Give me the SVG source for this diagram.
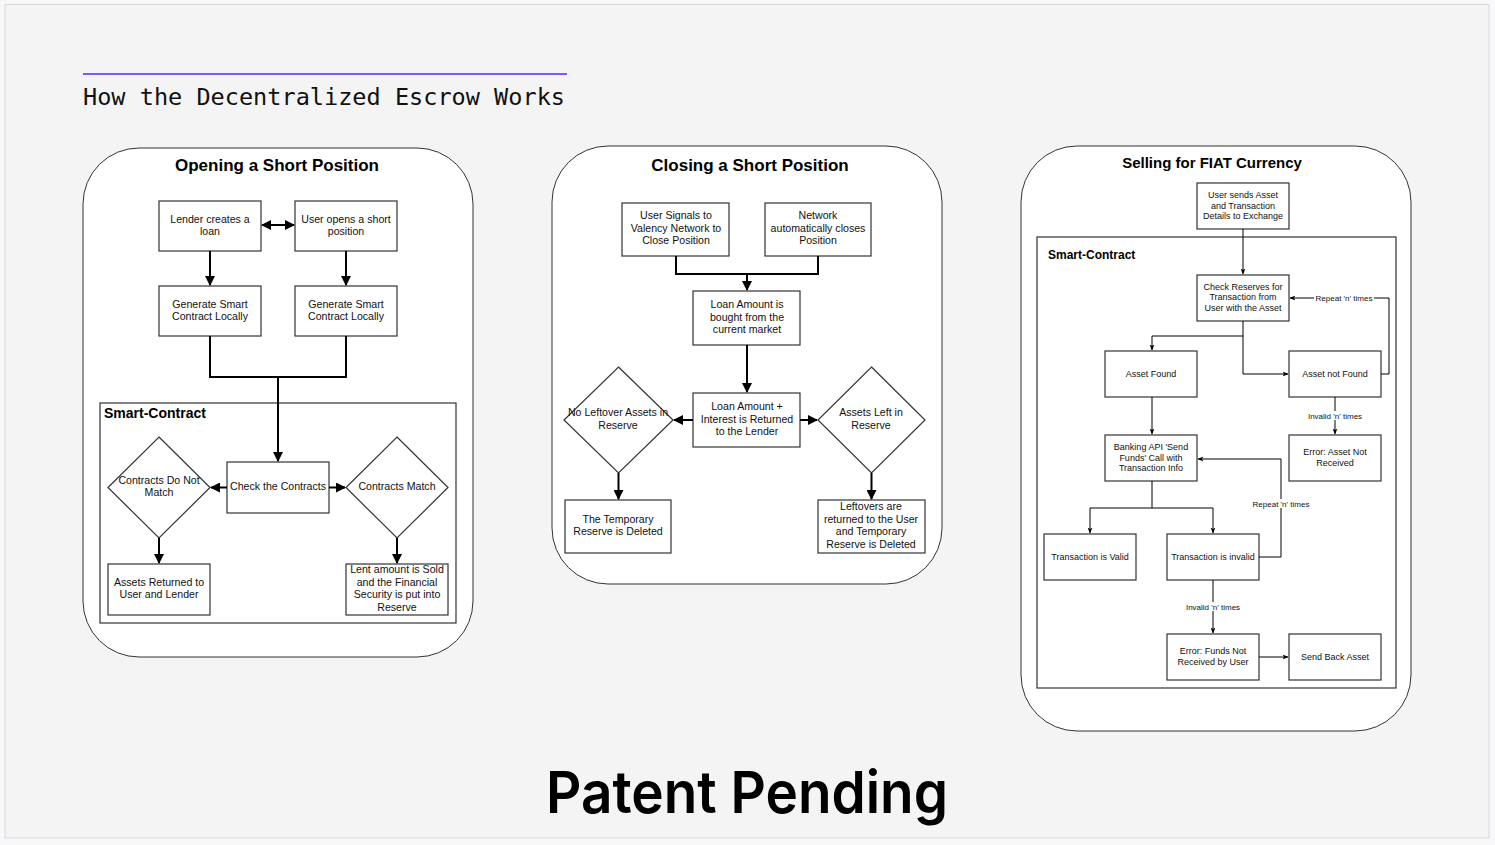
<svg xmlns="http://www.w3.org/2000/svg" width="1495" height="845" viewBox="0 0 1495 845">
<style>
.panel{fill:#ffffff;stroke:#333333;stroke-width:1}
.box{fill:#ffffff;stroke:#333333;stroke-width:1.2}
.sc{fill:none;stroke:#333333;stroke-width:1.2}
.t{font-family:"Liberation Sans",Arial,sans-serif;font-size:10.6px;fill:#111111;text-anchor:middle}
.s{font-family:"Liberation Sans",Arial,sans-serif;font-size:9px;fill:#111111;text-anchor:middle}
.lbl{font-family:"Liberation Sans",Arial,sans-serif;font-size:8px;fill:#111111;text-anchor:middle}
.h{font-family:"Liberation Sans",Arial,sans-serif;font-size:17px;font-weight:bold;fill:#000000;text-anchor:middle}
.h3{font-family:"Liberation Sans",Arial,sans-serif;font-size:15px;font-weight:bold;fill:#000000;text-anchor:middle}
.sct{font-family:"Liberation Sans",Arial,sans-serif;font-size:14px;font-weight:bold;fill:#000000}
.sct3{font-family:"Liberation Sans",Arial,sans-serif;font-size:12px;font-weight:bold;fill:#000000}
.c{fill:none;stroke:#000000;stroke-width:2}
.c3{fill:none;stroke:#000000;stroke-width:1}
</style>
<defs>
<marker id="ah" viewBox="0 0 10 10" refX="9" refY="5" markerWidth="5" markerHeight="5" orient="auto-start-reverse" markerUnits="strokeWidth"><path d="M0,0 L10,5 L0,10 z" fill="#000"/></marker>
<marker id="ah3" viewBox="0 0 10 10" refX="9" refY="5" markerWidth="6" markerHeight="6" orient="auto-start-reverse" markerUnits="strokeWidth"><path d="M0,1 L10,5 L0,9 L2.5,5 z" fill="#000"/></marker>
</defs>
<rect x="0" y="0" width="1495" height="845" fill="#f8f8fa"/>
<rect x="5" y="4.5" width="1484" height="833.5" fill="#f4f4f4" stroke="#d8d8d8" stroke-width="1"/>
<g id="header">
<line x1="83" y1="74" x2="567" y2="74" stroke="#7261f0" stroke-width="2"/>
<text x="83" y="105" font-family="'DejaVu Sans Mono','Liberation Mono',monospace" font-size="23.5" fill="#111111" textLength="482" lengthAdjust="spacingAndGlyphs">How the Decentralized Escrow Works</text>
</g>
<g id="footer">
<text x="546" y="813" font-family="Inter,'Noto Sans',sans-serif" font-size="58" font-weight="600" fill="#000000" textLength="402" lengthAdjust="spacingAndGlyphs">Patent Pending</text>
</g>

<!-- Panel 1 -->
<g id="panel1">
<rect class="panel" x="83" y="148" width="390" height="509" rx="56"/>
<text class="h" x="277" y="171">Opening a Short Position</text>
<rect class="sc" x="100" y="403" width="356" height="220"/>
<text class="sct" x="104" y="418">Smart-Contract</text>
</g>
<g id="p1-lender"><rect class="box" x="159" y="201" width="102" height="50"/><text class="t" x="210" y="223">Lender creates a</text><text class="t" x="210" y="235">loan</text></g>
<g id="p1-user"><rect class="box" x="295" y="201" width="102" height="50"/><text class="t" x="346" y="223">User opens a short</text><text class="t" x="346" y="235">position</text></g>
<g id="p1-gen1"><rect class="box" x="159" y="286" width="102" height="50"/><text class="t" x="210" y="308">Generate Smart</text><text class="t" x="210" y="320">Contract Locally</text></g>
<g id="p1-gen2"><rect class="box" x="295" y="286" width="102" height="50"/><text class="t" x="346" y="308">Generate Smart</text><text class="t" x="346" y="320">Contract Locally</text></g>
<g id="p1-check"><rect class="box" x="227" y="462" width="102" height="51"/><text class="t" x="278" y="490">Check the Contracts</text></g>
<g id="p1-nomatch"><path class="box" d="M159,437 L210,487.5 L159,538 L108,487.5 Z"/><text class="t" x="159" y="484">Contracts Do Not</text><text class="t" x="159" y="496">Match</text></g>
<g id="p1-match"><path class="box" d="M397,437 L448,487.5 L397,538 L346,487.5 Z"/><text class="t" x="397" y="490">Contracts Match</text></g>
<g id="p1-returned"><rect class="box" x="108" y="564" width="102" height="51"/><text class="t" x="159" y="586">Assets Returned to</text><text class="t" x="159" y="598">User and Lender</text></g>
<g id="p1-sold"><rect class="box" x="346" y="564" width="102" height="51"/><text class="t" x="397" y="573">Lent amount is Sold</text><text class="t" x="397" y="586">and the Financial</text><text class="t" x="397" y="598">Security is put into</text><text class="t" x="397" y="611">Reserve</text></g>

<!-- Panel 2 -->
<g id="panel2">
<rect class="panel" x="552" y="146" width="390" height="438" rx="56"/>
<text class="h" x="750" y="171">Closing a Short Position</text>
</g>
<g id="p2-signal"><rect class="box" x="622" y="203" width="107" height="53"/><text class="t" x="676" y="219">User Signals to</text><text class="t" x="676" y="232">Valency Network to</text><text class="t" x="676" y="244">Close Position</text></g>
<g id="p2-auto"><rect class="box" x="765" y="203" width="106" height="53"/><text class="t" x="818" y="219">Network</text><text class="t" x="818" y="232">automatically closes</text><text class="t" x="818" y="244">Position</text></g>
<g id="p2-bought"><rect class="box" x="693" y="291" width="107" height="54"/><text class="t" x="747" y="308">Loan Amount is</text><text class="t" x="747" y="321">bought from the</text><text class="t" x="747" y="333">current market</text></g>
<g id="p2-returned"><rect class="box" x="693" y="393" width="107" height="54"/><text class="t" x="747" y="410">Loan Amount +</text><text class="t" x="747" y="423">Interest is Returned</text><text class="t" x="747" y="435">to the Lender</text></g>
<g id="p2-noleft"><path class="box" d="M618.5,367 L673,420 L618.5,473 L564,420 Z"/><text class="t" x="618" y="416">No Leftover Assets in</text><text class="t" x="618" y="429">Reserve</text></g>
<g id="p2-left"><path class="box" d="M871.5,367 L925,420 L871.5,473 L818,420 Z"/><text class="t" x="871" y="416">Assets Left in</text><text class="t" x="871" y="429">Reserve</text></g>
<g id="p2-deleted"><rect class="box" x="565" y="500" width="106" height="53"/><text class="t" x="618" y="523">The Temporary</text><text class="t" x="618" y="535">Reserve is Deleted</text></g>
<g id="p2-leftovers"><rect class="box" x="818" y="500" width="107" height="53"/><text class="t" x="871" y="510">Leftovers are</text><text class="t" x="871" y="523">returned to the User</text><text class="t" x="871" y="535">and Temporary</text><text class="t" x="871" y="548">Reserve is Deleted</text></g>

<!-- Panel 3 -->
<g id="panel3">
<rect class="panel" x="1021" y="146" width="390" height="585" rx="56"/>
<text class="h3" x="1212" y="168">Selling for FIAT Currency</text>
<rect class="sc" x="1037" y="237" width="359" height="451"/>
<text class="sct3" x="1048" y="259">Smart-Contract</text>
</g>
<g id="p3-send"><rect class="box" x="1197" y="183" width="92" height="46"/><text class="s" x="1243" y="198">User sends Asset</text><text class="s" x="1243" y="209">and Transaction</text><text class="s" x="1243" y="219">Details to Exchange</text></g>
<g id="p3-check"><rect class="box" x="1197" y="275" width="92" height="46"/><text class="s" x="1243" y="290">Check Reserves for</text><text class="s" x="1243" y="300">Transaction from</text><text class="s" x="1243" y="311">User with the Asset</text></g>
<g id="p3-found"><rect class="box" x="1105" y="351" width="92" height="46"/><text class="s" x="1151" y="377">Asset Found</text></g>
<g id="p3-notfound"><rect class="box" x="1289" y="351" width="92" height="46"/><text class="s" x="1335" y="377">Asset not Found</text></g>
<g id="p3-bank"><rect class="box" x="1105" y="435" width="92" height="46"/><text class="s" x="1151" y="450">Banking API 'Send</text><text class="s" x="1151" y="461">Funds' Call with</text><text class="s" x="1151" y="471">Transaction Info</text></g>
<g id="p3-errasset"><rect class="box" x="1289" y="435" width="92" height="46"/><text class="s" x="1335" y="455">Error: Asset Not</text><text class="s" x="1335" y="466">Received</text></g>
<g id="p3-valid"><rect class="box" x="1044" y="534" width="92" height="46"/><text class="s" x="1090" y="560">Transaction is Valid</text></g>
<g id="p3-invalid"><rect class="box" x="1167" y="534" width="92" height="46"/><text class="s" x="1213" y="560">Transaction is invalid</text></g>
<g id="p3-errfunds"><rect class="box" x="1167" y="634" width="92" height="46"/><text class="s" x="1213" y="654">Error: Funds Not</text><text class="s" x="1213" y="665">Received by User</text></g>
<g id="p3-sendback"><rect class="box" x="1289" y="634" width="92" height="46"/><text class="s" x="1335" y="660">Send Back Asset</text></g>

<g id="connectors">
<!-- panel 1 -->
<line class="c" x1="262" y1="225" x2="294" y2="225" marker-start="url(#ah)" marker-end="url(#ah)"/>
<line class="c" x1="210" y1="251" x2="210" y2="285" marker-end="url(#ah)"/>
<line class="c" x1="346" y1="251" x2="346" y2="285" marker-end="url(#ah)"/>
<polyline class="c" points="210,336 210,377 346,377 346,336"/>
<line class="c" x1="278" y1="377" x2="278" y2="461" marker-end="url(#ah)"/>
<line class="c" x1="227" y1="487.5" x2="211" y2="487.5" marker-end="url(#ah)"/>
<line class="c" x1="329" y1="487.5" x2="345" y2="487.5" marker-end="url(#ah)"/>
<line class="c" x1="159" y1="538" x2="159" y2="563" marker-end="url(#ah)"/>
<line class="c" x1="397" y1="538" x2="397" y2="563" marker-end="url(#ah)"/>
<!-- panel 2 -->
<polyline class="c" points="676,256 676,274 818,274 818,256"/>
<line class="c" x1="747" y1="274" x2="747" y2="290" marker-end="url(#ah)"/>
<line class="c" x1="747" y1="345" x2="747" y2="392" marker-end="url(#ah)"/>
<line class="c" x1="693" y1="420" x2="674" y2="420" marker-end="url(#ah)"/>
<line class="c" x1="800" y1="420" x2="817" y2="420" marker-end="url(#ah)"/>
<line class="c" x1="618.5" y1="473" x2="618.5" y2="499" marker-end="url(#ah)"/>
<line class="c" x1="871.5" y1="473" x2="871.5" y2="499" marker-end="url(#ah)"/>
<!-- panel 3 -->
<line class="c3" x1="1243" y1="229" x2="1243" y2="274" marker-end="url(#ah3)"/>
<polyline class="c3" points="1243,321 1243,336 1152,336 1152,350" marker-end="url(#ah3)"/>
<polyline class="c3" points="1243,336 1243,374 1288,374" marker-end="url(#ah3)"/>
<polyline class="c3" points="1381,374 1389,374 1389,298 1290,298" marker-end="url(#ah3)"/>
<rect x="1314" y="293" width="60" height="9" fill="#ffffff"/>
<text class="lbl" x="1344" y="300.5">Repeat 'n' times</text>
<line class="c3" x1="1335" y1="397" x2="1335" y2="434" marker-end="url(#ah3)"/>
<rect x="1306" y="411" width="58" height="9" fill="#ffffff"/>
<text class="lbl" x="1335" y="418.5">Invalid 'n' times</text>
<line class="c3" x1="1152" y1="397" x2="1152" y2="434" marker-end="url(#ah3)"/>
<polyline class="c3" points="1152,481 1152,508 1090,508 1090,533" marker-end="url(#ah3)"/>
<polyline class="c3" points="1152,508 1213,508 1213,533" marker-end="url(#ah3)"/>
<polyline class="c3" points="1259,557 1281,557 1281,459 1198,459" marker-end="url(#ah3)"/>
<rect x="1250" y="499" width="62" height="9" fill="#ffffff"/>
<text class="lbl" x="1281" y="506.5">Repeat 'n' times</text>
<line class="c3" x1="1213" y1="580" x2="1213" y2="633" marker-end="url(#ah3)"/>
<rect x="1184" y="602" width="58" height="9" fill="#ffffff"/>
<text class="lbl" x="1213" y="609.5">Invalid 'n' times</text>
<line class="c3" x1="1259" y1="657" x2="1288" y2="657" marker-end="url(#ah3)"/>
</g>
</svg>
